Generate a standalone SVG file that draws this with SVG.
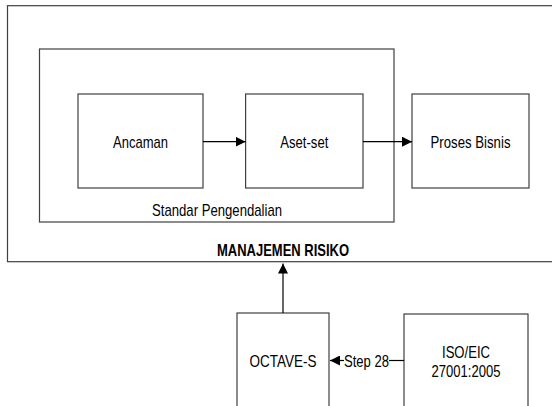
<svg xmlns="http://www.w3.org/2000/svg" width="552" height="406" viewBox="0 0 552 406">
<style>
.box{fill:#fff;stroke:#404040;stroke-width:1.2}
.frame{fill:none;stroke:#404040;stroke-width:1.2}
.t{font-family:"Liberation Sans",Arial,sans-serif;font-size:17px;fill:#000;text-anchor:middle}
.b{font-weight:bold}
.ln{fill:none;stroke:#000;stroke-width:1.2}
</style>
<defs>
<marker id="ah" viewBox="0 0 10 10" refX="10" refY="5" markerWidth="10" markerHeight="10" markerUnits="userSpaceOnUse" orient="auto">
<path d="M0,0 L10,5 L0,10 Z" fill="#000"/>
</marker>
</defs>
<rect width="552" height="406" fill="#fff"/>
<g id="manajemen-risiko">
<rect class="frame" x="7.5" y="5.7" width="560" height="256"/>
<text class="t b" x="283" y="256" textLength="132" lengthAdjust="spacingAndGlyphs">MANAJEMEN RISIKO</text>
</g>
<g id="standar-pengendalian">
<rect class="frame" x="39.5" y="49" width="354.5" height="173"/>
<text class="t" x="217" y="216" textLength="130" lengthAdjust="spacingAndGlyphs">Standar Pengendalian</text>
</g>
<g id="ancaman">
<rect class="box" x="78" y="94" width="125" height="94"/>
<text class="t" x="140.5" y="147.7" textLength="55" lengthAdjust="spacingAndGlyphs">Ancaman</text>
</g>
<g id="aset-set">
<rect class="box" x="245.6" y="94" width="117.4" height="94"/>
<text class="t" x="304.3" y="147.7" textLength="48" lengthAdjust="spacingAndGlyphs">Aset-set</text>
</g>
<g id="proses-bisnis">
<rect class="box" x="412" y="94" width="117" height="94"/>
<text class="t" x="470.5" y="147.7" textLength="80" lengthAdjust="spacingAndGlyphs">Proses Bisnis</text>
</g>
<g id="octave-s">
<rect class="box" x="237" y="313" width="92" height="95"/>
<text class="t" x="283" y="366.5" textLength="67" lengthAdjust="spacingAndGlyphs">OCTAVE-S</text>
</g>
<g id="iso-eic">
<rect class="box" x="404" y="314" width="124" height="94"/>
<text class="t" x="466" y="358" textLength="48" lengthAdjust="spacingAndGlyphs">ISO/EIC</text>
<text class="t" x="466" y="377" textLength="69" lengthAdjust="spacingAndGlyphs">27001:2005</text>
</g>
<g id="connectors">
<line class="ln" x1="203" y1="141.7" x2="245.6" y2="141.7" marker-end="url(#ah)"/>
<line class="ln" x1="363" y1="141.7" x2="412" y2="141.7" marker-end="url(#ah)"/>
<line class="ln" x1="283" y1="313" x2="283" y2="263.5" marker-end="url(#ah)"/>
<line class="ln" x1="404" y1="360.5" x2="389" y2="360.5"/>
<line class="ln" x1="344" y1="360.5" x2="330" y2="360.5" marker-end="url(#ah)"/>
<text class="t" x="366.5" y="366.5" textLength="45" lengthAdjust="spacingAndGlyphs">Step 28</text>
</g>
</svg>
